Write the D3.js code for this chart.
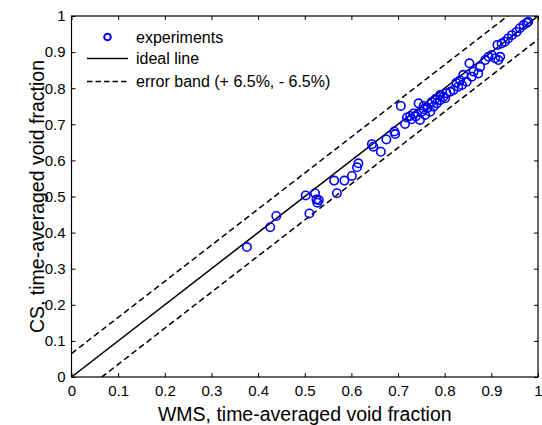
<!DOCTYPE html>
<html lang="en">
    <head>
        <meta charset="utf-8">
        <title>CS vs WMS void fraction</title>
        <script type="text/javascript" src="https://d3js.org/d3.v7.min.js"></script>
        <style type="text/css">
            body { margin: 0; background: #fff; }
            svg { font-family: "Liberation Sans", Arial, Helvetica, sans-serif; }
            .tick line { stroke: #000; }
            .tick text { font-size: 15px; fill: #000; }
            .title { font-size: 19.5px; fill: #000; }
            .legend text { font-size: 16px; fill: #000; }
        </style>
    </head>
    <body>
        <script type="text/javascript">

        // measured data: WMS (x) vs CS (y), time-averaged void fraction
        const wms = [0.376, 0.426, 0.439, 0.502, 0.510, 0.522, 0.525, 0.527, 0.530, 0.563,
                     0.569, 0.585, 0.601, 0.612, 0.615, 0.644, 0.647, 0.663, 0.675, 0.692,
                     0.694, 0.706, 0.715, 0.719, 0.726, 0.733, 0.744, 0.747, 0.751, 0.758,
                     0.769, 0.776, 0.783, 0.790, 0.797, 0.804, 0.790, 0.801, 0.819, 0.829,
                     0.837, 0.840, 0.847, 0.853, 0.858, 0.862, 0.872, 0.876, 0.887, 0.894,
                     0.901, 0.908, 0.915, 0.919, 0.913, 0.922, 0.929, 0.936, 0.944, 0.954,
                     0.961, 0.969, 0.976, 0.979, 0.729, 0.738, 0.755, 0.763, 0.772, 0.780,
                     0.812, 0.825, 0.833, 0.755];
        const cs  = [0.360, 0.415, 0.446, 0.503, 0.453, 0.509, 0.492, 0.483, 0.490, 0.544,
                     0.509, 0.544, 0.557, 0.581, 0.592, 0.645, 0.638, 0.624, 0.658, 0.680,
                     0.673, 0.751, 0.701, 0.719, 0.723, 0.730, 0.758, 0.712, 0.735, 0.726,
                     0.735, 0.749, 0.758, 0.767, 0.776, 0.786, 0.781, 0.772, 0.795, 0.804,
                     0.809, 0.837, 0.818, 0.869, 0.832, 0.846, 0.841, 0.859, 0.878, 0.887,
                     0.892, 0.883, 0.878, 0.887, 0.920, 0.924, 0.929, 0.938, 0.947, 0.956,
                     0.966, 0.975, 0.981, 0.984, 0.714, 0.722, 0.742, 0.745, 0.762, 0.770,
                     0.790, 0.815, 0.822, 0.751];
        const ticks = [0, 0.1, 0.2, 0.3, 0.4, 0.5, 0.6, 0.7, 0.8, 0.9, 1];
        const band = 0.065;
        const legendLabels = ["experiments", "ideal line", "error band (+ 6.5%, - 6.5%)"];

        const width = 542;
        const height = 425;
        const plotL = 71.5, plotR = 538, plotT = 16, plotB = 377;

        const x = d3.scaleLinear().domain([0, 1]).range([plotL, plotR]);
        const y = d3.scaleLinear().domain([0, 1]).range([plotB, plotT]);

        const svg = d3.select("body")
                    .append("svg")
                    .attr("width", width)
                    .attr("height", height);

        svg.append("defs").append("clipPath")
            .attr("id", "plot")
            .append("rect")
            .attr("x", plotL).attr("y", plotT)
            .attr("width", plotR - plotL).attr("height", plotB - plotT);

        // ideal + error band lines
        const lineData = [
            {pts: [[0, 0], [1, 1]], dash: null},
            {pts: [[0, band], [1, 1 + band]], dash: "6,3.5"},
            {pts: [[0, -band], [1, 1 - band]], dash: "6,3.5"}
        ];
        const line = d3.line().x(d => x(d[0])).y(d => y(d[1]));
        svg.append("g")
            .attr("clip-path", "url(#plot)")
            .selectAll("path")
            .data(lineData)
            .enter()
            .append("path")
            .attr("d", d => line(d.pts))
            .attr("fill", "none")
            .attr("stroke", "#000")
            .attr("stroke-width", 1.5)
            .attr("stroke-dasharray", d => d.dash);

        // data points
        svg.append("g")
            .selectAll("circle")
            .data(wms.map((v, i) => [v, cs[i]]))
            .enter()
            .append("circle")
            .attr("cx", d => x(d[0]))
            .attr("cy", d => y(d[1]))
            .attr("r", 4.2)
            .attr("fill", "none")
            .attr("stroke", "#0000ff")
            .attr("stroke-width", 1.6);

        // axes, ticks pointing inward
        const fmt = d => d === 0 ? "0" : d === 1 ? "1" : d3.format(".1f")(d);
        const gx = svg.append("g")
            .attr("transform", "translate(0," + plotB + ")")
            .call(d3.axisBottom(x).tickValues(ticks).tickFormat(fmt).tickSize(-4).tickPadding(8.5));
        const gy = svg.append("g")
            .attr("transform", "translate(" + plotL + ",0)")
            .call(d3.axisLeft(y).tickValues(ticks).tickFormat(fmt).tickSize(-4).tickPadding(6));
        const gt = svg.append("g")
            .attr("transform", "translate(0," + plotT + ")")
            .call(d3.axisTop(x).tickValues(ticks).tickFormat("").tickSize(-4));
        const gr = svg.append("g")
            .attr("transform", "translate(" + plotR + ",0)")
            .call(d3.axisRight(y).tickValues(ticks).tickFormat("").tickSize(-4));
        [gx, gy, gt, gr].forEach(g => {
            g.select(".domain").remove();
            g.attr("font-family", null).attr("font-size", null);
        });

        svg.append("rect")
            .attr("x", plotL).attr("y", plotT)
            .attr("width", plotR - plotL).attr("height", plotB - plotT)
            .attr("fill", "none")
            .attr("stroke", "#000")
            .attr("stroke-width", 1.2);

        // axis titles
        svg.append("text")
            .attr("class", "title")
            .attr("text-anchor", "middle")
            .attr("x", (plotL + plotR) / 2)
            .attr("y", 421)
            .text("WMS, time-averaged void fraction");

        svg.append("text")
            .attr("class", "title")
            .attr("text-anchor", "middle")
            .attr("transform", "translate(44," + ((plotT + plotB) / 2) + ") rotate(-90)")
            .text("CS, time-averaged void fraction");

        // legend
        const legend = svg.append("g").attr("class", "legend");
        const rowY = [37, 58.5, 81.5];
        legend.append("circle")
            .attr("cx", 107.5).attr("cy", rowY[0]).attr("r", 3.3)
            .attr("fill", "none").attr("stroke", "#0000ff").attr("stroke-width", 2);
        legend.append("line")
            .attr("x1", 87).attr("x2", 128).attr("y1", rowY[1]).attr("y2", rowY[1])
            .attr("stroke", "#000").attr("stroke-width", 1.5);
        legend.append("line")
            .attr("x1", 87).attr("x2", 128).attr("y1", rowY[2]).attr("y2", rowY[2])
            .attr("stroke", "#000").attr("stroke-width", 1.5)
            .attr("stroke-dasharray", "5.5,3");
        legend.selectAll("text")
            .data(legendLabels)
            .enter()
            .append("text")
            .attr("x", 136)
            .attr("y", (d, i) => rowY[i] + 5.5)
            .text(d => d);

        </script>
    </body>
</html>
